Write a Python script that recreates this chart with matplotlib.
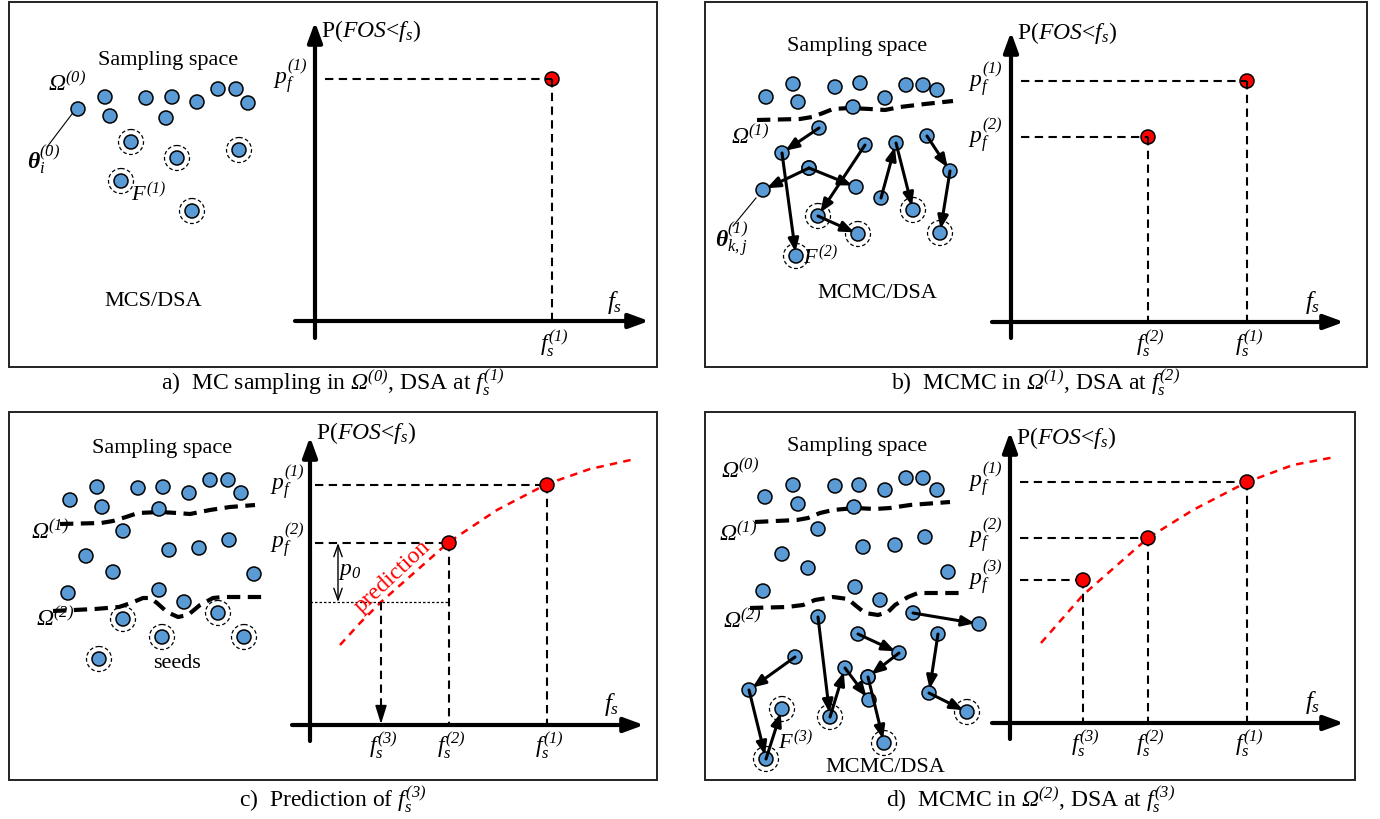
import matplotlib.pyplot as plt
from matplotlib.patches import Circle, Rectangle

plt.rcParams['font.family'] = ['Liberation Serif', 'DejaVu Serif']
plt.rcParams['mathtext.fontset'] = 'custom'
plt.rcParams['mathtext.rm'] = 'Liberation Serif'
plt.rcParams['mathtext.it'] = 'Liberation Serif:italic'
# 'it' forces digits and Greek capitals upright, so borrow bf / sf slots
plt.rcParams['mathtext.bf'] = 'Liberation Serif:italic'
plt.rcParams['mathtext.sf'] = 'Liberation Serif:italic:bold'

BLUE = '#5b9bd5'
FS = 16

# ---- panel a : MC sampling ----
a_dots = [(78, 109), (105, 97), (110, 116), (146, 98), (172, 97), (166, 118),
          (197, 102), (218, 89), (236, 89), (248, 103)]
a_seeds = [(131, 142), (177, 158), (239, 150), (121, 181), (192, 211)]
a_fs = [552]
a_pf = [79]

# ---- panel b : MCMC in Omega(1) ----
b_dots = [(766, 97), (793, 84), (798, 102), (835, 87), (860, 83), (853, 107),
          (885, 98), (906, 85), (923, 85), (937, 90)]
b_bound = [(757, 120), (800, 119), (812, 117), (823, 113), (833, 109), (850, 108),
           (870, 109), (885, 110), (900, 107), (925, 104), (953, 101)]
b_chains = [[(819, 128), (782, 153), (796, 256)],
            [(809, 168), (763, 190)],
            [(809, 168), (856, 187)],
            [(865, 145), (818, 216), (858, 234)],
            [(881, 198), (896, 143), (913, 210)],
            [(927, 136), (950, 171), (940, 233)]]
b_seeds = [(796, 256), (818, 216), (858, 234), (913, 210), (940, 233)]
b_fs = [1247, 1148]
b_pf = [81, 137]

# ---- panel c : prediction ----
c_dots = [(70, 500), (97, 487), (102, 507), (138, 488), (163, 487), (159, 509),
          (189, 493), (210, 480), (228, 480), (241, 493),
          (123, 531), (86, 556), (113, 572), (169, 550), (199, 548), (229, 540),
          (254, 574), (68, 593), (159, 590), (184, 602)]
c_bound1 = [(60, 524), (101, 523), (113, 521), (126, 517), (138, 513), (160, 512),
            (177, 513), (190, 514), (210, 510), (230, 507), (255, 505)]
c_bound2 = [(53, 611), (95, 609), (119, 607), (131, 603), (143, 598), (150, 598),
            (157, 603), (167, 612), (178, 617), (188, 615), (200, 605), (213, 598),
            (223, 597), (263, 597)]
c_seeds = [(123, 619), (162, 637), (218, 613), (244, 637), (99, 659)]
c_fs = [547, 449]
c_pf = [485, 543]
c_fs3 = 381
c_p3 = 602
c_curve = [(340, 645), (360, 623), (381, 602), (415, 572), (449, 542), (497, 510),
           (547, 484), (590, 469), (635, 459)]

# ---- panel d : MCMC in Omega(2) ----
d_dots = [(765, 497), (793, 485), (798, 504), (835, 486), (859, 485), (854, 507),
          (885, 490), (906, 478), (923, 478), (937, 490),
          (818, 529), (782, 554), (808, 568), (863, 547), (895, 545), (925, 537),
          (948, 572), (763, 591), (855, 587), (880, 600)]
d_bound1 = [(755, 522), (797, 520), (808, 518), (820, 513), (833, 510), (855, 508),
            (875, 509), (890, 508), (910, 505), (950, 502)]
d_bound2 = [(750, 608), (787, 607), (803, 605), (815, 600), (833, 597), (848, 599),
            (855, 605), (865, 613), (878, 615), (888, 612), (895, 605), (908, 597),
            (918, 593), (960, 593)]
d_chains = [[(818, 617), (830, 717), (845, 668), (869, 700)],
            [(868, 677), (884, 743)],
            [(858, 634), (899, 653), (868, 677)],
            [(913, 613), (979, 624)],
            [(938, 634), (929, 693), (967, 712)],
            [(795, 657), (749, 690), (766, 759), (782, 709)]]
d_seeds = [(830, 717), (884, 743), (967, 712), (766, 759), (782, 709)]
d_fs = [1247, 1148, 1083]
d_pf = [482, 538, 580]
d_curve = [(1041, 643), (1083, 595), (1148, 538), (1193, 510), (1247, 482),
           (1293, 465), (1335, 457)]

fig = plt.figure(figsize=(13.8, 8.19), dpi=100)
ax = fig.add_axes([0, 0, 1, 1])
ax.set_xlim(0, 1380)
ax.set_ylim(819, 0)
ax.axis('off')


def sup(k):
    return r'^{\mathbf{(%s)}}' % k


def omega(k):
    return r'$\mathbf{Ω}' + sup(k) + '$'


def pf(k):
    return r'$p_f' + sup(k) + '$'


def fsl(k):
    return r'$f_s' + sup(k) + '$'


def dot(p, seed=False):
    ax.add_patch(Circle(p, 7, fc=BLUE, ec='k', lw=1.1, zorder=3))
    if seed:
        ax.add_patch(Circle(p, 12.5, fc='none', ec='k', lw=0.9,
                            ls=(0, (3, 2)), zorder=3))


def arrow(p, q, lw=2.2, style='-|>,head_length=0.55,head_width=0.22', shrink=3, ms=14):
    ax.annotate('', xy=q, xytext=p,
                arrowprops=dict(arrowstyle=style, lw=lw, color='k',
                                shrinkA=0, shrinkB=shrink, mutation_scale=ms),
                zorder=4)


def frame(x0, y0, x1, y1):
    ax.add_patch(Rectangle((x0, y0), x1 - x0, y1 - y0, fc='none', ec='#222222', lw=1.4))


def axes_cross(ox, oy, xl, xr, yb, yt):
    st = '-|>,head_length=0.6,head_width=0.22'
    arrow((xl, oy), (xr, oy), lw=3, style=st, shrink=0, ms=20)
    arrow((ox, yb), (ox, yt), lw=3, style=st, shrink=0, ms=20)


def guides(fs, pfv, ox, oy, x_start, top=False):
    for x, y in zip(fs, pfv):
        ax.add_patch(Circle((x, y), 7, fc='red', ec='k', lw=1.1, zorder=3 if top else 5))
        ax.plot([x_start, x], [y, y], color='k', lw=1.5, ls=(0, (4, 2.6)), zorder=4)
        ax.plot([x, x], [y, oy], color='k', lw=1.5, ls=(0, (4, 2.6)), zorder=4)


def boundary(pts):
    ax.plot([p[0] for p in pts], [p[1] for p in pts], color='k', lw=3,
            ls=(0, (3.2, 1.8)), solid_capstyle='butt', zorder=2)


def txt(x, y, s, size=FS, **kw):
    ax.text(x, y, s, fontsize=size, ha=kw.pop('ha', 'center'),
            va=kw.pop('va', 'center'), **kw)


def ylabel_p(x, y):
    txt(x, y, r'P($FOS$<$f_s$)', size=17, ha='left')


# frames
frame(9, 2, 657, 367)
frame(705, 2, 1367, 367)
frame(9, 412, 657, 780)
frame(705, 412, 1355, 780)

# ---------- a ----------
for p in a_dots:
    dot(p)
for p in a_seeds:
    dot(p, True)
ax.plot([47, 72], [147, 114], color='k', lw=0.8)
txt(168, 60, 'Sampling space')
txt(67, 84, omega(0), size=17)
txt(44, 160, r'$\mathsf{θ}_i' + sup(0) + '$', size=17)
txt(148, 195, r'$F' + sup(1) + '$')
txt(153, 301, 'MCS/DSA')
axes_cross(315, 321, 295, 649, 338, 22)
guides(a_fs, a_pf, 315, 321, 325, top=True)
ylabel_p(321, 31)
txt(290, 77, pf(1), size=17)
txt(615, 302, r'$f_s$', size=18)
txt(554, 344, fsl(1), size=17)
txt(333, 383, r'a)  MC sampling in ' + omega(0) + ', DSA at ' + fsl(1), size=17)

# ---------- b ----------
for p in b_dots:
    dot(p)
boundary(b_bound)
for ch in b_chains:
    for p in ch:
        dot(p, p in b_seeds)
for ch in b_chains:
    for p, q in zip(ch[:-1], ch[1:]):
        arrow(p, q)
ax.plot([733, 756], [226, 198], color='k', lw=0.8)
txt(857, 46, 'Sampling space')
txt(750, 137, omega(1), size=17)
txt(732, 240, r'$\mathsf{θ}_{k,j}' + sup(1) + '$', size=17)
txt(820, 258, r'$F' + sup(2) + '$')
txt(877, 293, 'MCMC/DSA')
axes_cross(1011, 322, 992, 1344, 338, 32)
guides(b_fs, b_pf, 1011, 322, 1021, top=True)
ylabel_p(1017, 33)
for y, k in zip(b_pf, [1, 2]):
    txt(985, y - 1, pf(k), size=17)
txt(1313, 302, r'$f_s$', size=18)
for x, k in zip(b_fs, [1, 2]):
    txt(x + 2, 344, fsl(k), size=17)
txt(1036, 383, r'b)  MCMC in ' + omega(1) + ', DSA at ' + fsl(2), size=17)

# ---------- c ----------
for p in c_dots:
    dot(p)
for p in c_seeds:
    dot(p, True)
boundary(c_bound1)
boundary(c_bound2)
txt(162, 449, 'Sampling space')
txt(50, 532, omega(1), size=17)
txt(55, 619, omega(2), size=17)
txt(177, 663, 'seeds')
axes_cross(310, 725, 292, 644, 741, 437)
ax.plot([p[0] for p in c_curve], [p[1] for p in c_curve], color='red', lw=1.8,
        ls=(0, (3, 2.5)), zorder=2)
guides(c_fs, c_pf, 310, 725, 315)
ax.plot([310, c_fs[1]], [c_p3, c_p3], color='k', lw=0.9, ls=(0, (2, 1.6)))
ax.plot([c_fs3, c_fs3], [c_p3, 710], color='k', lw=1.5, ls=(0, (4, 2.6)))
arrow((c_fs3, 700), (c_fs3, 724), lw=1.2, style='-|>,head_length=0.8,head_width=0.25',
      shrink=0, ms=14)
ax.annotate('', xy=(338, c_p3), xytext=(338, c_pf[1]),
            arrowprops=dict(arrowstyle='<->,head_length=0.7,head_width=0.25', lw=1,
                            color='k', shrinkA=0, shrinkB=0, mutation_scale=12))
txt(350, 572, r'$p_\mathbf{0}$', size=17)
txt(392, 577, 'prediction', size=17, color='red', rotation=43, rotation_mode='anchor')
ylabel_p(316, 433)
for y, k in zip(c_pf, [1, 2]):
    txt(287, y - 2, pf(k), size=17)
txt(612, 705, r'$f_s$', size=18)
for x, k in zip(c_fs + [c_fs3], [1, 2, 3]):
    txt(x + 2, 746, fsl(k), size=17)
txt(333, 800, r'c)  Prediction of ' + fsl(3), size=17)

# ---------- d ----------
for p in d_dots:
    dot(p)
boundary(d_bound1)
boundary(d_bound2)
for ch in d_chains:
    for p in ch:
        dot(p, p in d_seeds)
for ch in d_chains:
    for p, q in zip(ch[:-1], ch[1:]):
        arrow(p, q)
txt(857, 447, 'Sampling space')
txt(740, 471, omega(0), size=17)
txt(738, 534, omega(1), size=17)
txt(742, 621, omega(2), size=17)
txt(795, 743, r'$F' + sup(3) + '$')
txt(885, 767, 'MCMC/DSA')
axes_cross(1010, 723, 992, 1344, 739, 432)
ax.plot([p[0] for p in d_curve], [p[1] for p in d_curve], color='red', lw=1.8,
        ls=(0, (3, 2.5)), zorder=2)
guides(d_fs, d_pf, 1010, 723, 1020)
ylabel_p(1016, 438)
for y, k in zip(d_pf, [1, 2, 3]):
    txt(985, y - 2, pf(k), size=17)
txt(1313, 702, r'$f_s$', size=18)
for x, k in zip(d_fs, [1, 2, 3]):
    txt(x + 2, 744, fsl(k), size=17)
txt(1031, 800, r'd)  MCMC in ' + omega(2) + ', DSA at ' + fsl(3), size=17)

fig.savefig('out.png', dpi=100)
